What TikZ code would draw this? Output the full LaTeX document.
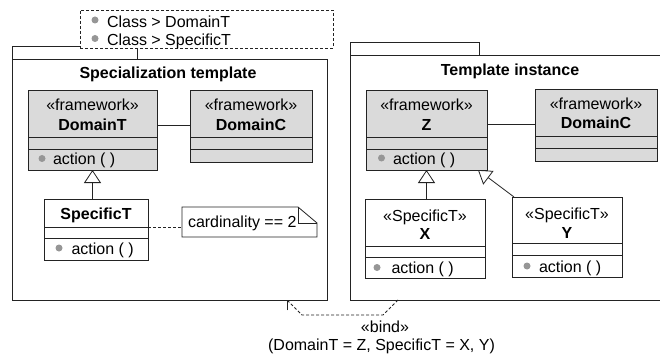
\documentclass[tikz,border=0pt]{standalone}
\usepackage{fontspec}
\setmainfont{Liberation Sans}
\usetikzlibrary{arrows.meta,calc}
\definecolor{ink}{RGB}{35,35,35}
\definecolor{shade}{RGB}{218,218,218}
\definecolor{dotc}{RGB}{150,150,150}
\begin{document}
\fontsize{16}{19}\selectfont
\begin{tikzpicture}[x=1pt,y=-1pt,
  every node/.style={inner sep=0pt, outer sep=0pt},
  part/.style={draw=ink, line width=0.8pt, anchor=north west, minimum width=#1},
  framed/.style={draw=ink, line width=0.8pt, anchor=north west, fill=white},
  lbl/.style={text height=11.5pt, text depth=0pt},
  dot/.style={circle, fill=dotc, minimum size=7pt},
  assoc/.style={draw=ink, line width=0.8pt},
  gen/.style={draw=ink, line width=0.8pt, -{Triangle[open, length=13pt, width=17pt]}},
  dashline/.style={draw=ink, line width=0.8pt, dash pattern=on 3pt off 2pt}]
\useasboundingbox (0,0) rectangle (660,358);

% ---------------- packages ----------------
\node[framed, minimum width=125, minimum height=13] (Ltab) at (12,46) {};
\node[framed, minimum width=315, minimum height=241] (Lpkg) at (12,59) {};
\node[framed, minimum width=129, minimum height=13] (Rtab) at (350,42) {};
\node[framed, minimum width=330, minimum height=245] (Rpkg) at (350,55) {};

% template parameters
\node[framed, dash pattern=on 3pt off 2pt, minimum width=253, minimum height=38] (tparams) at (80,10) {};
\node[dot] (tp1dot) at (95,20) {};
\node[lbl, anchor=west] (tp1) at (107,21.5) {Class > DomainT};
\node[dot] (tp2dot) at (95,38.5) {};
\node[lbl, anchor=west] (tp2) at (107,40) {Class > SpecificT};

% titles
\node[lbl, font=\bfseries] (Ltitle) at (168,72.5) {Specialization template};
\node[lbl, font=\bfseries] (Rtitle) at (510,69.5) {Template instance};

% ---------------- specialization template ----------------
% DomainT
\node[part=129, minimum height=47, fill=shade] (DT) at (28,90) {};
\node[part=129, minimum height=12, fill=shade] (DTm) at (28,137) {};
\node[part=129, minimum height=21, fill=shade] (DTo) at (28,149) {};
\node[lbl] (DTst) at (92.5,105) {«framework»};
\node[lbl, font=\bfseries] (DTnm) at (92.5,124.5) {DomainT};
\node[dot] (DTdot) at (42,158.5) {};
\node[lbl, anchor=west] (DTop) at (53,159) {action ( )};

% DomainC
\node[part=122, minimum height=47, fill=shade] (DCL) at (190,90) {};
\node[part=122, minimum height=12, fill=shade] (DCLm) at (190,137) {};
\node[part=122, minimum height=13, fill=shade] (DCLo) at (190,149) {};
\node[lbl] (DCLst) at (251,105) {«framework»};
\node[lbl, font=\bfseries] (DCLnm) at (251,124.5) {DomainC};

% SpecificT
\node[part=104, minimum height=28, fill=white] (SP) at (44,199) {};
\node[part=104, minimum height=11, fill=white] (SPm) at (44,227) {};
\node[part=104, minimum height=22, fill=white] (SPo) at (44,238) {};
\node[lbl, font=\bfseries] (SPnm) at (96,213.5) {SpecificT};
\node[dot] (SPdot) at (59,248) {};
\node[lbl, anchor=west] (SPop) at (71.5,248.5) {action ( )};

% note
\node[anchor=north west, minimum width=135, minimum height=30] (note) at (182,207) {};
\draw[ink, line width=0.8pt, fill=white] (note.north west) -- ([xshift=-19pt]note.north east)
  -- ([yshift=-16pt]note.north east) -- (note.south east) -- (note.south west) -- cycle;
\draw[ink, line width=0.8pt] ([xshift=-19pt]note.north east) -- ++(0,16) -- ([yshift=-16pt]note.north east);
\node[lbl, anchor=west] (notetxt) at (188,222) {cardinality == 2};

\draw[assoc] ([yshift=-11.5pt]DT.east) -- ([yshift=-11.5pt]DT.east -| DCL.west);
\draw[gen] (DTo.south |- SP.north) -- (DTo.south);
\draw[dashline] (SPm.north east) -- (SPm.north east -| note.west);

% ---------------- template instance ----------------
% Z
\node[part=121, minimum height=47, fill=shade] (Z) at (366,90) {};
\node[part=121, minimum height=12, fill=shade] (Zm) at (366,137) {};
\node[part=121, minimum height=21, fill=shade] (Zo) at (366,149) {};
\node[lbl] (Zst) at (426.5,104.5) {«framework»};
\node[lbl, font=\bfseries] (Znm) at (426.5,124.5) {Z};
\node[dot] (Zdot) at (381.5,158) {};
\node[lbl, anchor=west] (Zop) at (393,158.5) {action ( )};

% DomainC
\node[part=122, minimum height=47, fill=shade] (DCR) at (535,89) {};
\node[part=122, minimum height=12, fill=shade] (DCRm) at (535,136) {};
\node[part=122, minimum height=13, fill=shade] (DCRo) at (535,148) {};
\node[lbl] (DCRst) at (596,104) {«framework»};
\node[lbl, font=\bfseries] (DCRnm) at (596,123) {DomainC};

% X
\node[part=120, minimum height=47, fill=white] (X) at (365,199) {};
\node[part=120, minimum height=11, fill=white] (Xm) at (365,246) {};
\node[part=120, minimum height=21, fill=white] (Xo) at (365,257) {};
\node[lbl] (Xst) at (425,215.5) {«SpecificT»};
\node[lbl, font=\bfseries] (Xnm) at (425,234) {X};
\node[dot] (Xdot) at (377,267.5) {};
\node[lbl, anchor=west] (Xop) at (391.5,268) {action ( )};

% Y
\node[part=110, minimum height=46, fill=white] (Y) at (512,197) {};
\node[part=110, minimum height=12, fill=white] (Ym) at (512,243) {};
\node[part=110, minimum height=22, fill=white] (Yo) at (512,255) {};
\node[lbl] (Yst) at (567,214) {«SpecificT»};
\node[lbl, font=\bfseries] (Ynm) at (567,232.5) {Y};
\node[dot] (Ydot) at (527,266) {};
\node[lbl, anchor=west] (Yop) at (539,266.5) {action ( )};

\draw[assoc] ([yshift=-10.5pt]Z.east) -- ([yshift=-10.5pt]Z.east -| DCR.west);
\draw[gen] (Zo.south |- X.north) -- (Zo.south);
\draw[gen] ([xshift=2pt]Y.north west) -- ([xshift=-9pt]Zo.south east);

% ---------------- binding ----------------
\coordinate (bindA) at ([xshift=48pt]Rpkg.south west);
\coordinate (bindB) at ([xshift=275pt]Lpkg.south west);
\draw[dashline, -{Straight Barb[length=7pt, width=14pt]}] (bindA) -- ++(-15,15) -- ++(-81,0) -- (bindB);
\node[lbl] (bindst) at (385,327) {«bind»};
\node[lbl] (bindargs) at (381.5,345) {(DomainT = Z, SpecificT = X, Y)};
\end{tikzpicture}
\end{document}
